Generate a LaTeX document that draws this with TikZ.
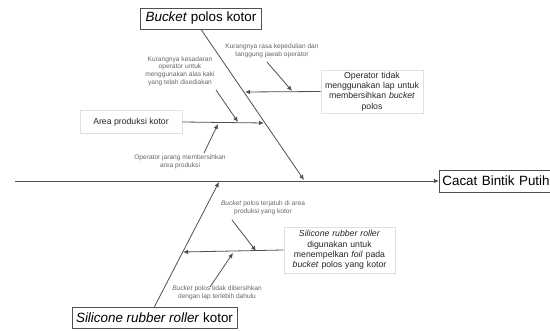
\documentclass[tikz,border=0pt]{standalone}
\usepackage{fontspec}
\setmainfont{Liberation Sans}
\usetikzlibrary{arrows.meta}
\definecolor{linec}{HTML}{505050}
\definecolor{smalltxt}{HTML}{666666}
\tikzset{
  bigbox/.style={draw=linec, line width=0.8pt, fill=white, inner sep=2pt, font=\fontsize{13.4}{15}\selectfont, text=black},
  subbox/.style={draw=black!12, line width=0.6pt, fill=white, align=center, font=\fontsize{8.7}{10.4}\selectfont, text=black!85},
  note/.style={align=center, font=\fontsize{6.6}{7.6}\selectfont, text=smalltxt, inner sep=0pt},
  arr/.style={draw=linec, line width=0.8pt, -{Latex[length=5pt,width=4.5pt]}},
}
\begin{document}
\begin{tikzpicture}[x=1pt,y=-1pt]
\useasboundingbox (0,0) rectangle (550,331);
\fill[white] (0,0) rectangle (550,331);
% heads
\node[bigbox, minimum width=121pt, minimum height=21pt] (b1) at (201,18.5) {\textit{Bucket} polos kotor};
\node[bigbox, anchor=west, minimum height=22pt, inner xsep=3pt, text width=112pt] (cacat) at (439,181) {Cacat Bintik Putih};
\node[bigbox, minimum width=165pt, minimum height=21pt] (b2) at (154.5,317.5) {\textit{Silicone rubber roller} kotor};
% sub boxes
\node[subbox, minimum width=102pt, minimum height=43pt, text width=100pt, inner sep=1pt] (op) at (372,91.5) {Operator tidak\\menggunakan lap untuk\\membersihkan \textit{bucket}\\polos};
\node[subbox, minimum width=102pt, minimum height=23pt] (area) at (131,122) {Area produksi kotor};
\node[subbox, minimum width=111pt, minimum height=46pt, text width=108pt, inner sep=1pt] (sil) at (339.5,250) {\textit{Silicone rubber roller}\\digunakan untuk\\menempelkan \textit{foil} pada\\\textit{bucket} polos yang kotor};
% notes
\node[note] (k1) at (272,51) {Kurangnya rasa kepedulian dan\\tanggung jawab operator};
\node[note] (k2) at (180,71) {Kurangnya kesadaran\\operator untuk\\menggunakan alas kaki\\yang telah disediakan};
\node[note] (k3) at (180,162) {Operator jarang membersihkan\\area produksi};
\node[note] (k4) at (263,208) {\textit{Bucket} polos terjatuh di area\\produksi yang kotor};
\node[note] (k5) at (217,293) {\textit{Bucket} polos tidak dibersihkan\\dengan lap terlebih dahulu};
% coordinates
\coordinate (s0) at (15,181);
\coordinate (topend) at (304,180);
\coordinate (botend) at (219,182);
\coordinate (opend) at (245,92);
\coordinate (areaend) at (264,123);
\coordinate (silend) at (183,252);
\coordinate (a1s) at (267,62);
\coordinate (a1e) at (292,91);
\coordinate (a2s) at (216,90);
\coordinate (a2e) at (238,122);
\coordinate (a3s) at (204,153);
\coordinate (a3e) at (218,124);
\coordinate (a4s) at (232,220);
\coordinate (a4e) at (256,251);
\coordinate (a5s) at (210,287);
\coordinate (a5e) at (233,253);
% spine
\draw[arr] (s0) -- (cacat.west);
% main bones
\draw[arr] (b1.south) -- (topend);
\draw[arr] (b2.north) -- (botend);
% branches
\draw[arr] (op.west) -- (opend);
\draw[arr] (area.east) -- (areaend);
\draw[arr] (sil.west) -- (silend);
% small arrows
\draw[arr] (a1s) -- (a1e);
\draw[arr] (a2s) -- (a2e);
\draw[arr] (a3s) -- (a3e);
\draw[arr] (a4s) -- (a4e);
\draw[arr] (a5s) -- (a5e);
\end{tikzpicture}
\end{document}
